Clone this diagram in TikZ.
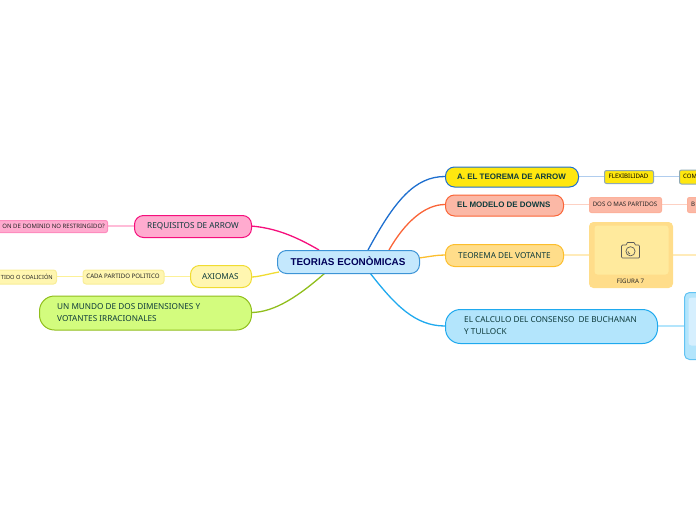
\documentclass[tikz,border=0pt]{standalone}
\usepackage{fontspec}
\setmainfont{Noto Sans}
\newfontfamily\arialf{Liberation Sans}
\definecolor{ink}{HTML}{0E3B3C}
\definecolor{smedge}{HTML}{8FA9B5}
\tikzset{
 x=1pt,y=-1pt,
 box/.style={rounded corners=#1,line width=1pt,inner sep=0pt},
 lab/.style={font=\fontsize{8.2}{12}\selectfont,text=ink,anchor=west,inner sep=0pt,align=left},
 sm/.style={font=\fontsize{6.15}{7}\selectfont,text=black!85,inner sep=0pt},
 hd/.style={font=\arialf\bfseries\fontsize{7.95}{10}\selectfont,text=ink,inner sep=0pt},
 link/.style={line width=1.3pt},
 soft/.style={line width=1.5pt}
}
\definecolor{cen}{HTML}{C4E8FD}\definecolor{cend}{HTML}{3D94D6}
\definecolor{pk}{HTML}{FFABCF}\definecolor{pkd}{HTML}{F50F7C}
\definecolor{yl}{HTML}{FFF6B0}\definecolor{yld}{HTML}{F0DC32}
\definecolor{gr}{HTML}{D3FC7E}\definecolor{grd}{HTML}{90BE1C}
\definecolor{ay}{HTML}{FFE70F}\definecolor{ayd}{HTML}{1E6FCF}
\definecolor{rd}{HTML}{FBB8A6}\definecolor{rdd}{HTML}{FA6437}
\definecolor{or}{HTML}{FFDD8A}\definecolor{ord}{HTML}{FCBE2D}
\definecolor{bl}{HTML}{B3E5FC}\definecolor{bld}{HTML}{1FA9EE}
\begin{document}
\begin{tikzpicture}
\useasboundingbox (0,0) rectangle (696,520);
\clip (0,0) rectangle (696,520);
% anchors
\coordinate (cA) at (368,250);\coordinate (cB) at (389,250);\coordinate (cC) at (419,258);
\coordinate (cD) at (370,273);\coordinate (cE) at (319,250);\coordinate (cF) at (279,272);\coordinate (cG) at (325,273);
\coordinate (a) at (445,176.5);\coordinate (b) at (445,204.5);\coordinate (c) at (445,255);\coordinate (d) at (445,326);
\coordinate (e) at (251,226);\coordinate (f) at (251,277);\coordinate (g) at (251,312.5);
% main links
\draw[link,ayd] (cA) .. controls (395,200) and (415,176.5) .. (a);
\draw[link,rdd] (cB) .. controls (405,222) and (425,204.5) .. (b);
\draw[link,ord] (cC) .. controls (430,256.5) and (437,255) .. (c);
\draw[link,bld] (cD) .. controls (395,305) and (415,326) .. (d);
\draw[link,pkd] (cE) .. controls (295,236) and (275,228) .. (e);
\draw[link,yld] (cF) .. controls (268,274) and (258,277) .. (f);
\draw[link,grd] (cG) .. controls (300,295) and (275,312.5) .. (g);
% soft links
\draw[soft,pk!80] (108,226) -- (134,226);
\draw[soft,yl!80!yld] (56,276.5) -- (83,276.5);
\draw[soft,yl!80!yld] (163,276.5) -- (190,276.5);
\draw[soft,ayd!35] (578,176.5) -- (604,176.5);
\draw[soft,ayd!35] (653,176.5) -- (679,176.5);
\draw[soft,rdd!30] (563,204.5) -- (589,204.5);
\draw[soft,rdd!30] (661,204.5) -- (687,204.5);
\draw[soft,or!60] (563,255) -- (589,255);
\draw[soft,or!60] (673,255) -- (696,255);
\draw[soft,bl] (657,326) -- (684,326);
% central
\node[box=9pt,draw=cend,fill=cen,minimum width=142pt,minimum height=23pt,anchor=north west] (center) at (277,250) {};
\node[font=\arialf\bfseries\fontsize{9.9}{11}\selectfont,text=black!65!blue,inner sep=0pt] at (348,261.5) {TEORIAS ECONÒMICAS};
% right main
\node[box=9pt,draw=ayd,fill=ay,minimum width=133pt,minimum height=20pt,anchor=north west] (na) at (445,166.5) {};
\node[hd,anchor=west] at (457,176.5) {A. EL TEOREMA DE ARROW};
\node[box=9pt,draw=rdd,fill=rd,minimum width=118pt,minimum height=21pt,anchor=north west] (nb) at (445,194.5) {};
\node[hd,anchor=west] at (457,204.5) {EL MODELO DE DOWNS};
\node[box=9pt,draw=ord,fill=or,minimum width=118pt,minimum height=22pt,anchor=north west] (nc) at (445,244) {};
\node[lab] at (458,255.5) {TEOREMA DEL VOTANTE};
\node[box=15pt,draw=bld,fill=bl,minimum width=212pt,minimum height=34pt,anchor=north west] (nd) at (445,309) {};
\node[lab] at (464,325.5) {EL CALCULO DEL CONSENSO \ DE BUCHANAN\\Y TULLOCK};
% left main
\node[box=9pt,draw=pkd,fill=pk,minimum width=117pt,minimum height=22pt,anchor=north west] (ne) at (134,215) {};
\node[lab] at (147,226.5) {REQUISITOS DE ARROW};
\node[box=9pt,draw=yld,fill=yl,minimum width=61pt,minimum height=22pt,anchor=north west] (nf) at (190,265) {};
\node[lab] at (202,276.5) {AXIOMAS};
\node[box=15pt,draw=grd,fill=gr,minimum width=212pt,minimum height=34pt,anchor=north west] (ng) at (39,295.5) {};
\node[lab] at (57,312.5) {UN MUNDO DE DOS DIMENSIONES Y\\VOTANTES IRRACIONALES};
% small
\node[box=2pt,draw=pk!80!pkd,fill=pk,minimum width=120pt,minimum height=12pt,anchor=north east] (s1) at (108,220) {};
\node[sm,anchor=east,font=\fontsize{6}{7}\selectfont] at (105,226) {ON DE DOMINIO NO RESTRINGIDO?};
\node[box=3pt,draw=yld!50,fill=yl,minimum width=90pt,minimum height=14pt,anchor=north east] (s2) at (57,269.5) {};
\node[sm,anchor=east,font=\fontsize{5.7}{7}\selectfont] at (53,276.5) {TIDO O COALICIÓN};
\node[box=3pt,draw=yld!50,fill=yl,minimum width=81pt,minimum height=14pt,anchor=north west] (s3) at (82.5,269.5) {};
\node[sm] at (123,276.5) {CADA PARTIDO POLITICO};
\node[box=2pt,draw=smedge,fill=ay,minimum width=49pt,minimum height=13pt,anchor=north west] (s4) at (604,170) {};
\node[sm,text=black] at (628.5,176.5) {FLEXIBILIDAD};
\node[box=2pt,draw=smedge,fill=ay,minimum width=40pt,minimum height=14pt,anchor=north west] (s5) at (679,169.5) {};
\node[sm,anchor=west,text=black,font=\fontsize{6}{7}\selectfont] at (683,176.5) {COM};
\node[box=2pt,draw=rdd!50,fill=rd,minimum width=72pt,minimum height=15pt,anchor=north west] (s6) at (589,197) {};
\node[sm] at (625,204.5) {DOS O MAS PARTIDOS};
\node[box=2pt,draw=rdd!50,fill=rd,minimum width=30pt,minimum height=15pt,anchor=north west] (s7) at (687,197) {};
\node[sm,anchor=west] at (691,204.5) {B};
% figure
\node[box=4pt,draw=or,fill=or,minimum width=83pt,minimum height=65pt,anchor=north west] (fig) at (589,222) {};
\node[box=3pt,fill=or!50!yl,minimum width=74pt,minimum height=49pt,anchor=north west] (figin) at (594,225) {};
\node[sm] at (630.5,281) {FIGURA 7};
\begin{scope}[shift={(621.5,242)},line width=.7pt,draw=black!65,line join=round]
\draw (1,3) -- (4.5,3) -- (6,0.5) -- (12.5,0.5) -- (14,3) -- (17,3) -- (18,4) -- (18,15) -- (17,16) -- (1,16) -- (0,15) -- (0,4) -- cycle;
\draw (9,9.3) circle[radius=4.6];
\draw (9,9.3) ++(-2.6,0) arc[start angle=180,end angle=100,radius=2.6];
\end{scope}
% bottom right card
\node[box=5pt,draw=bld!70,fill=bl,minimum width=40pt,minimum height=67pt,anchor=north west] (card) at (684,292) {};
\node[box=3pt,fill=cen!70!white,minimum width=30pt,minimum height=48pt,anchor=north west] (cardin) at (688,297) {};
\end{tikzpicture}
\end{document}
